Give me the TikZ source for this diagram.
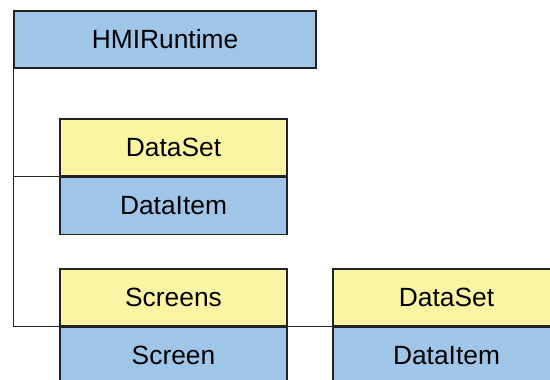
\documentclass[tikz,border=0pt]{standalone}
\usepackage{fontspec}
\setmainfont{Liberation Sans}
\usepackage{tikz}
\usetikzlibrary{positioning}
\definecolor{itemblue}{HTML}{9FC5E8}
\definecolor{setyellow}{HTML}{FAF4A3}
\definecolor{edge}{HTML}{222222}

\tikzset{
  box/.style={draw=edge, line width=0.8pt, inner sep=0pt, minimum height=1.14cm,
    font=\fontsize{15}{18}\selectfont},
  bluebox/.style={box, fill=itemblue},
  yellowbox/.style={box, fill=setyellow},
  wire/.style={draw=edge, line width=0.8pt}
}

\begin{document}
\begin{tikzpicture}
  \clip (0,0) rectangle (11,7.58);
  \useasboundingbox (0,0) rectangle (11,7.58);

  % Runtime
  \node[bluebox, minimum width=6.04cm] (hmi) at (3.30,6.79) {HMIRuntime};

  % DataSet under runtime
  \node[yellowbox, minimum width=4.54cm] (dsa) at (3.47,4.63) {DataSet};
  \node[bluebox, minimum width=4.54cm, below=0pt of dsa] (dia) {DataItem};

  % Screens
  \node[yellowbox, minimum width=4.54cm] (scr) at (3.47,1.63) {Screens};
  \node[bluebox, minimum width=4.54cm, below=0pt of scr] (sc) {Screen};

  % DataSet under screen
  \node[yellowbox, minimum width=4.54cm] (dsb) at (8.93,1.63) {DataSet};
  \node[bluebox, minimum width=4.54cm, below=0pt of dsb] (dib) {DataItem};

  % Links
  \draw[wire] (hmi.south west) |- (dsa.south west);
  \draw[wire] (hmi.south west) |- (scr.south west);
  \draw[wire] (scr.south east) -- (dsb.south west);
\end{tikzpicture}
\end{document}
